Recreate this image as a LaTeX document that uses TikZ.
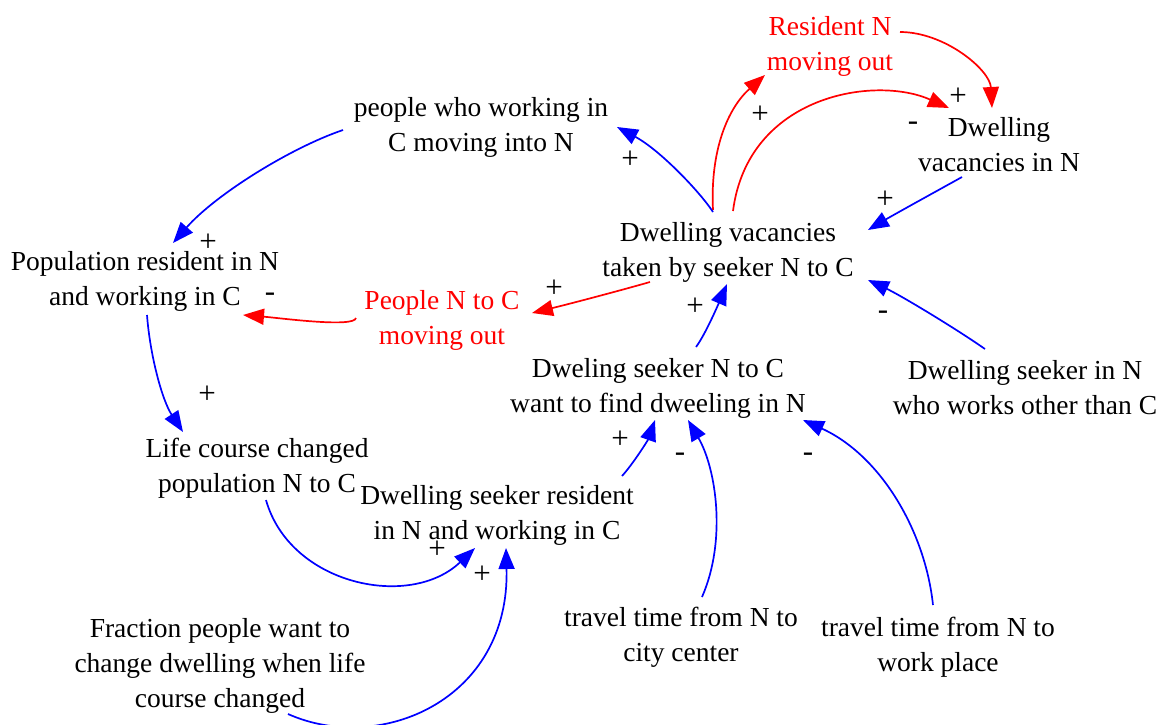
\documentclass[tikz,border=0pt]{standalone}
\usepackage{fontspec}
\setmainfont{Liberation Serif}
\usetikzlibrary{arrows.meta}
\definecolor{linkblue}{RGB}{0,0,255}
\definecolor{linkred}{RGB}{255,0,0}
\begin{document}
\begin{tikzpicture}[x=1pt,y=-1pt,
  var/.style={inner sep=0pt, align=center, font=\fontsize{27.5}{35}\selectfont},
  redvar/.style={var, text=linkred},
  sign/.style={inner sep=0pt, font=\fontsize{31}{35}\selectfont},
  link/.style={line width=1.7pt, -{Triangle[length=21pt,width=16pt]}},
  bluelink/.style={link, draw=linkblue},
  redlink/.style={link, draw=linkred},
]
\useasboundingbox (0,0) rectangle (1168,724);

% variables
\node[redvar] (res) at (830,46) {Resident N\\moving out};
\node[var] (vacN) at (999,145) {Dwelling\\vacancies in N};
\node[var] (cmove) at (481,127) {people who working in\\C moving into N};
\node[var] (taken) at (728,252) {Dwelling vacancies\\taken by seeker N to C};
\node[var] (pop) at (145,281) {Population resident in N\\and working in C};
\node[redvar] (pnc) at (442,320) {People N to C\\moving out};
\node[var] (seekNC) at (658,388) {Dweling seeker N to C\\want to find dweeling in N};
\node[var] (seekOther) at (1025,388) {Dwelling seeker in N\\who works other than C};
\node[var] (life) at (257,468) {Life course changed\\population N to C};
\node[var] (seekRes) at (497,515) {Dwelling seeker resident\\in N and working in C};
\node[var] (frac) at (220,666) {Fraction people want to\\change dwelling when life\\course changed};
\node[var] (ttcity) at (681,637) {travel time from N to\\city center};
\node[var] (ttwork) at (938,647) {travel time from N to\\work place};

% causal links
\draw[redlink] ([shift={(70,-14)}]res.center) .. controls (945,32) and (990,70) .. ([shift={(-7,-37)}]vacN.center);
\draw[redlink] ([shift={(-15,-42)}]taken.center) .. controls (710,150) and (728,108) .. ([shift={(-65,29)}]res.center);
\draw[redlink] ([shift={(5,-41)}]taken.center) .. controls (748,95) and (875,75) .. ([shift={(-50,-37)}]vacN.center);
\draw[bluelink] ([shift={(-37,32)}]vacN.center) .. controls (935,192) and (895,214) .. ([shift={(140,-22)}]taken.center);
\draw[bluelink] ([shift={(-15,-40)}]taken.center) .. controls (700,192) and (660,150) .. ([shift={(136,0)}]cmove.center);
\draw[bluelink] ([shift={(-138,3)}]cmove.center) .. controls (290,148) and (215,195) .. ([shift={(28,-38)}]pop.center);
\draw[redlink] ([shift={(-78,30)}]taken.center) .. controls (615,292) and (565,305) .. ([shift={(90,-7)}]pnc.center);
\draw[redlink] ([shift={(-86,-2)}]pnc.center) .. controls (354,328) and (280,318) .. ([shift={(98,34)}]pop.center);
\draw[bluelink] ([shift={(2,34)}]pop.center) .. controls (150,355) and (162,400) .. ([shift={(-74,-36)}]life.center);
\draw[bluelink] ([shift={(38,-41)}]seekNC.center) .. controls (705,335) and (718,305) .. ([shift={(-1,32)}]taken.center);
\draw[bluelink] ([shift={(-40,-39)}]seekOther.center) .. controls (955,328) and (900,295) .. ([shift={(140,28)}]taken.center);
\draw[bluelink] ([shift={(125,-39)}]seekRes.center) .. controls (633,464) and (648,440) .. ([shift={(-3,32)}]seekNC.center);
\draw[bluelink] ([shift={(21,-40)}]ttcity.center) .. controls (727,540) and (716,468) .. ([shift={(30,32)}]seekNC.center);
\draw[bluelink] ([shift={(-5,-42)}]ttwork.center) .. controls (925,530) and (880,455) .. ([shift={(145,32)}]seekNC.center);
\draw[bluelink] ([shift={(9,32)}]life.center) .. controls (290,585) and (410,610) .. ([shift={(-22,33)}]seekRes.center);
\draw[bluelink] ([shift={(68,48)}]frac.center) .. controls (380,755) and (510,700) .. ([shift={(9,33)}]seekRes.center);

% link polarities
\node[sign] (sA) at (958,97) {+};
\node[sign] (sB) at (760,115) {+};
\node[sign] (sC) at (913,126) {-};
\node[sign] (sD) at (885,200) {+};
\node[sign] (sE) at (630,160) {+};
\node[sign] (sF) at (208,243) {+};
\node[sign] (sG) at (554,289) {+};
\node[sign] (sH) at (270,297) {-};
\node[sign] (sI) at (207,395) {+};
\node[sign] (sJ) at (695,307) {+};
\node[sign] (sK) at (883,315) {-};
\node[sign] (sL) at (620,440) {+};
\node[sign] (sM) at (680,457) {-};
\node[sign] (sN) at (808,457) {-};
\node[sign] (sO) at (437,550) {+};
\node[sign] (sP) at (482,575) {+};
\end{tikzpicture}
\end{document}
